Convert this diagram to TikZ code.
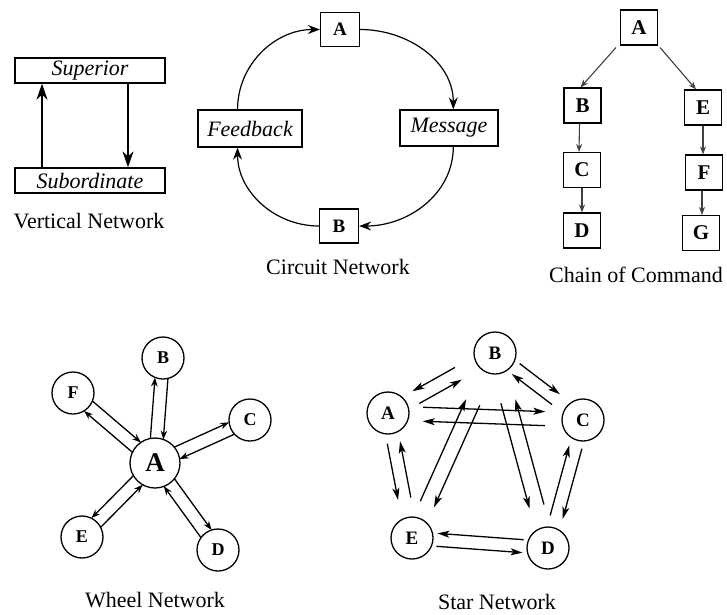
\documentclass[tikz,border=0pt]{standalone}
\usepackage{fontspec}
\setmainfont{Liberation Serif}
\usetikzlibrary{arrows.meta,calc}
\newcommand\biarr[6]{%
  \draw[#6, shorten <=#4, shorten >=#5] ($(#1)!#3!90:(#2)$) -- ($(#2)!#3!-90:(#1)$);
  \draw[#6, shorten <=#5, shorten >=#4] ($(#2)!#3!90:(#1)$) -- ($(#1)!#3!-90:(#2)$);
}
\tikzset{
  lbl/.style={font=\fontsize{22}{26}\selectfont, inner sep=0pt},
  ibox/.style={draw, line width=1.3pt, font=\fontsize{22}{26}\selectfont\itshape, inner sep=2pt},
  cbox/.style={draw, line width=1.3pt, font=\fontsize{19}{22}\selectfont\bfseries, minimum width=39pt, minimum height=34pt, inner sep=0pt},
  chbox/.style={draw, line width=1.2pt, font=\fontsize{21}{24}\selectfont\bfseries, minimum width=37pt, minimum height=35pt, inner sep=0pt},
  wc/.style={draw, circle, line width=1.3pt, font=\fontsize{18}{20}\selectfont\bfseries, minimum size=42pt, inner sep=0pt},
  sc/.style={draw, circle, line width=1.3pt, font=\fontsize{19}{22}\selectfont\bfseries, minimum size=42pt, inner sep=0pt},
  vtip/.style={-{Stealth[length=16pt,width=11pt,inset=5pt]}, line width=1.4pt},
  ctip/.style={-{Stealth[length=12pt,width=9pt,inset=4pt]}, line width=1.2pt},
  chtip/.style={-{Stealth[length=8pt,width=6pt]}, line width=1.1pt, draw=black!75},
  wtip/.style={-{Stealth[length=9pt,width=6.5pt]}, line width=1.3pt},
  stip/.style={-{Stealth[length=12pt,width=7pt,inset=3pt]}, line width=1.3pt},
}
\begin{document}
\begin{tikzpicture}[x=1pt,y=1pt]
\useasboundingbox[fill=white] (0,0) rectangle (727,-614);

% Vertical network
\node[ibox, minimum width=150pt, minimum height=25pt] (sup) at (90,-70.5) {Superior};
\node[ibox, minimum width=150pt, minimum height=25pt] (sub) at (90,-180.5) {Subordinate};
\node[lbl] (vlab) at (89,-221) {Vertical Network};
\draw[vtip] ([xshift=-48pt]sub.north) -- ([xshift=-48pt]sup.south);
\draw[vtip] ([xshift=38pt]sup.south) -- ([xshift=38pt]sub.north);

% Circuit network
\node[cbox] (cA) at (340,-29.5) {A};
\node[cbox] (cB) at (339,-226) {B};
\node[ibox, minimum width=104pt, minimum height=37pt] (fb) at (250,-128.5) {Feedback};
\node[ibox, minimum width=98pt, minimum height=36pt] (msg) at (449,-128) {Message};
\node[lbl] (clab) at (338,-267) {Circuit Network};
\draw[ctip] (fb.123) to[out=90,in=180] (cA.west);
\draw[ctip] (cA.east) to[out=0,in=90] (msg.77);
\draw[ctip] (msg.-77) to[out=-90,in=0] (cB.east);
\draw[ctip] (cB.west) to[out=180,in=-90] (fb.-123);

% Chain of command
\node[chbox] (chA) at (639,-27.5) {A};
\node[chbox] (chB) at (582.5,-105.5) {B};
\node[chbox] (chC) at (582,-170) {C};
\node[chbox] (chD) at (582,-230.5) {D};
\node[chbox] (chE) at (703,-107.5) {E};
\node[chbox] (chF) at (704,-172.5) {F};
\node[chbox] (chG) at (701,-233) {G};
\node[lbl] (chlab) at (636,-275) {Chain of Command};
\draw[chtip] ([xshift=-4pt,yshift=-2pt]chA.south west) -- ([xshift=-2pt]chB.north);
\draw[chtip] ([xshift=2pt,yshift=-2pt]chA.south east) -- ([xshift=-7pt]chE.north);
\draw[chtip] ([xshift=-3pt]chB.south) -- ([xshift=-3pt]chC.north);
\draw[chtip] (chC.south) -- (chC.south |- chD.north);
\draw[chtip] (chE.south) -- (chE.south |- chF.north);
\draw[chtip] ([xshift=-2pt]chF.south) -- ([xshift=-2pt]chF.south |- chG.north);

% Wheel network
\node[wc, minimum size=50pt, font=\fontsize{27}{30}\selectfont\bfseries] (wA) at (155,-463) {A};
\node[wc] (wB) at (163,-358) {B};
\node[wc] (wC) at (250,-420) {C};
\node[wc] (wD) at (218,-550) {D};
\node[wc] (wE) at (82,-537) {E};
\node[wc] (wF) at (73,-393) {F};
\node[lbl] (wlab) at (155,-600) {Wheel Network};
\biarr{wA}{wB}{6.5pt}{24pt}{20pt}{wtip}
\biarr{wA}{wC}{6.5pt}{24pt}{20pt}{wtip}
\biarr{wA}{wD}{6.5pt}{24pt}{20pt}{wtip}
\biarr{wA}{wE}{-6.5pt}{24pt}{20pt}{wtip}
\biarr{wA}{wF}{6.5pt}{24pt}{20pt}{wtip}

% Star network
\node[sc] (sA) at (388,-413) {A};
\node[sc] (sB) at (495,-353) {B};
\node[sc] (sC) at (583,-420) {C};
\node[sc] (sD) at (548,-548) {D};
\node[sc] (sE) at (412,-538) {E};
\node[lbl] (slab) at (497,-602) {Star Network};
\biarr{sA}{sB}{-7pt}{32pt}{42pt}{stip}
\biarr{sA}{sC}{7pt}{35pt}{38pt}{stip}
\biarr{sA}{sE}{-6.5pt}{30pt}{40pt}{stip}
\biarr{sB}{sE}{7.5pt}{54pt}{37pt}{stip}
\biarr{sB}{sD}{-7.5pt}{50pt}{43pt}{stip}
\biarr{sC}{sD}{6.5pt}{28pt}{32pt}{stip}
\biarr{sB}{sC}{6.5pt}{26pt}{34pt}{stip}
\biarr{sE}{sD}{-6.5pt}{25pt}{25pt}{stip}
\end{tikzpicture}
\end{document}
